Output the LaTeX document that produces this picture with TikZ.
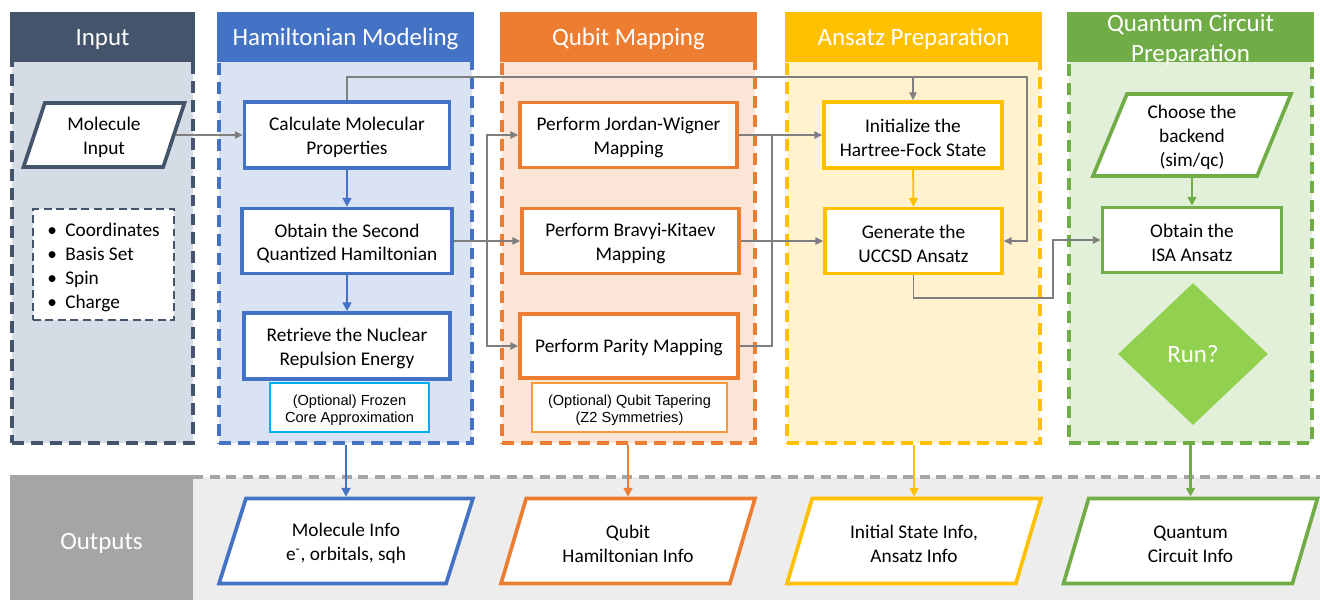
\documentclass[tikz,border=0pt]{standalone}
\usepackage{fontspec}
\setmainfont{Carlito}
\newfontfamily\arialfont{Liberation Sans}
\usetikzlibrary{arrows.meta,shapes.geometric}

\definecolor{slate}{HTML}{44546A}
\definecolor{slatefill}{HTML}{D6DCE5}
\definecolor{hblue}{HTML}{4472C4}
\definecolor{hbluefill}{HTML}{DAE3F3}
\definecolor{qorange}{HTML}{ED7D31}
\definecolor{qorangefill}{HTML}{FBE5D6}
\definecolor{agold}{HTML}{FFC000}
\definecolor{agoldfill}{HTML}{FFF2CC}
\definecolor{cgreen}{HTML}{70AD47}
\definecolor{cgreenfill}{HTML}{E2F0D9}
\definecolor{rungreen}{HTML}{92D050}
\definecolor{linkgray}{HTML}{7F7F7F}
\definecolor{outgray}{HTML}{A5A5A5}
\definecolor{bandgray}{HTML}{EDEDED}
\definecolor{frozenblue}{HTML}{00B0F0}
\definecolor{taperorange}{HTML}{F79A3A}

\newcommand\hdrfont{\fontsize{14.2}{17}\selectfont}
\newcommand\boxfont{\fontsize{11}{13.6}\selectfont}
\newcommand\notefont{\arialfont\fontsize{8.3}{9.8}\selectfont}
% struts that give the first text line a fixed height
\newcommand\lift{\rule{0pt}{10.6pt}}
\newcommand\liftnote{\rule{0pt}{9.4pt}}

\tikzset{
  hdr/.style={fill=#1, minimum height=1cm, inner sep=0pt, text=white, font=\hdrfont,
    text height=10.2pt, text depth=0pt},
  lane/.style={draw=#1, line width=1.9pt, dash pattern=on 6.8pt off 4pt,
    minimum height=7.66cm, inner sep=0pt},
  procbox/.style={draw=#1, fill=white, line width=2.1pt, align=center,
    inner sep=0pt, font=\boxfont},
  notebox/.style={draw=#1, fill=white, line width=0.8pt, align=center,
    inner sep=0pt, font=\notefont},
  para/.style={trapezium, trapezium stretches body=true, draw=#1, fill=white,
    line width=2.1pt, align=center, inner sep=0pt, font=\boxfont},
  outpara/.style={minimum width=5.08cm, minimum height=1.7cm,
    trapezium left angle=59.5, trapezium right angle=120.5},
  link/.style={draw=linkgray, line width=1pt, -{Triangle[length=4.5pt,width=4.2pt]}},
  linkline/.style={draw=linkgray, line width=1pt},
  flowarrow/.style={draw=#1, line width=1.4pt, -{Triangle[length=5pt,width=5pt]}},
}

\begin{document}
\begin{tikzpicture}[x=0.02cm, y=-0.02cm]
\fill[white] (0,0) rectangle (1320,600);
\useasboundingbox (0,0) rectangle (1320,600);

% outputs band
\fill[bandgray] (193,477) rectangle (1320,600);
\draw[outgray, line width=1.8pt, dash pattern=on 5.7pt off 3.7pt] (193,477) -- (1320,477);
\node[fill=outgray, minimum width=3.66cm, minimum height=2.5cm, inner sep=0pt,
  text=white, font=\hdrfont, text height=13.1pt, text depth=0pt] (outlabel) at (101.5,537.5) {Outputs};

% lanes
\node[lane=slate, fill=slatefill, minimum width=3.62cm] (inlane) at (102.5,251.5) {};
\node[lane=hblue, fill=hbluefill, minimum width=5.06cm] (hlane) at (345.5,251.5) {};
\node[lane=qorange, fill=qorangefill, minimum width=5.06cm] (qlane) at (628.5,251.5) {};
\node[lane=agold, fill=agoldfill, minimum width=5.06cm] (alane) at (913.5,251.5) {};
\node[lane=cgreen, fill=cgreenfill, minimum width=4.86cm] (clane) at (1190.5,251.5) {};

% lane headers
\node[hdr=slate, minimum width=3.7cm] (inhdr) at (102.5,37) {Input};
\node[hdr=hblue, minimum width=5.14cm] (hhdr) at (345.5,37) {Hamiltonian Modeling};
\node[hdr=qorange, minimum width=5.14cm] (qhdr) at (628.5,37) {Qubit Mapping};
\node[hdr=agold, minimum width=5.14cm] (ahdr) at (913.5,37) {Ansatz Preparation};
\node[hdr=cgreen, minimum width=4.94cm] (chdr) at (1190.5,37) {};
\node[text=white, font=\hdrfont, align=center, inner sep=0pt] (chtext) at (1190.5,39.5)
  {Quantum Circuit\\Preparation};

% input lane
\node[para=slate, minimum width=3.22cm, minimum height=1.28cm,
  trapezium left angle=65, trapezium right angle=115] (minput) at (104,135) {\lift Molecule\\Input};
\node[draw=slate, fill=white, line width=1.4pt, dash pattern=on 4.5pt off 2.6pt,
  minimum width=2.82cm, minimum height=2.22cm, inner sep=0pt, font=\boxfont, align=left]
  (props) at (103.5,264.5)
  {\lift\makebox[0.36cm][l]{•}Coordinates\\\makebox[0.36cm][l]{•}Basis Set\\
   \makebox[0.36cm][l]{•}Spin\\\makebox[0.36cm][l]{•}Charge};

% hamiltonian lane
\node[procbox=hblue, minimum width=4.1cm, minimum height=1.32cm] (calc) at (347,135)
  {\lift Calculate Molecular\\Properties};
\node[procbox=hblue, minimum width=4.2cm, minimum height=1.3cm] (second) at (347,241)
  {\lift Obtain the Second\\Quantized Hamiltonian};
\node[procbox=hblue, minimum width=4.12cm, minimum height=1.32cm] (nuclear) at (347,346)
  {\lift Retrieve the Nuclear\\Repulsion Energy};
\node[notebox=frozenblue, minimum width=3.18cm, minimum height=0.98cm] (frozen) at (349.5,407.5)
  {\liftnote (Optional) Frozen\\Core Approximation};

% qubit mapping lane
\node[procbox=qorange, minimum width=4.34cm, minimum height=1.3cm] (jw) at (628.5,135)
  {\lift Perform Jordan-Wigner\\Mapping};
\node[procbox=qorange, minimum width=4.34cm, minimum height=1.3cm] (bk) at (630.5,241)
  {\lift Perform Bravyi-Kitaev\\Mapping};
\node[procbox=qorange, minimum width=4.36cm, minimum height=1.28cm,
  text height=9.6pt, text depth=2.4pt] (parity) at (629,346)
  {Perform Parity Mapping};
\node[notebox=taperorange, minimum width=3.9cm, minimum height=0.98cm] (taper) at (629.5,407.5)
  {\liftnote (Optional) Qubit Tapering\\(Z2 Symmetries)};

% ansatz lane
\node[procbox=agold, minimum width=3.56cm, minimum height=1.32cm] (hf) at (913,135)
  {\lift Initialize the\\Hartree-Fock State};
\node[procbox=agold, minimum width=3.54cm, minimum height=1.3cm] (uccsd) at (913.5,241)
  {\lift Generate the\\UCCSD Ansatz};

% circuit lane
\node[para=cgreen, minimum width=3.96cm, minimum height=1.64cm,
  trapezium left angle=64, trapezium right angle=116] (backend) at (1192,135)
  {\lift Choose the\\backend\\(sim/qc)};
\node[procbox=cgreen, minimum width=3.58cm, minimum height=1.3cm] (isa) at (1192,240)
  {\lift Obtain the\\ISA Ansatz};
\node[diamond, fill=rungreen, minimum width=3cm, minimum height=2.84cm, inner sep=0pt,
  text=white, font=\hdrfont, text height=10.2pt, text depth=0pt] (run) at (1193,354) {Run?};

% outputs
\node[para=hblue, outpara] (minfo) at (346,541) {\lift Molecule Info\\e\textsuperscript{-}, orbitals, sqh};
\node[para=qorange, outpara] (qinfo) at (628,541) {\lift Qubit\\Hamiltonian Info};
\node[para=agold, outpara] (ainfo) at (914,541) {\lift Initial State Info,\\Ansatz Info};
\node[para=cgreen, outpara] (cinfo) at (1190.5,541) {\lift Quantum\\Circuit Info};

% connectors
\draw[link] (minput.east) -- (calc.west);
\draw[flowarrow=hblue] (calc.south) -- (second.north);
\draw[flowarrow=hblue] (second.south) -- (nuclear.north);

\coordinate (split) at (487,241);
\draw[link] (second.east) -- (bk.west);
\draw[link] (split) |- (jw.west);
\draw[link] (split) |- (parity.west);

\draw[link] (jw.east) -- (hf.west);
\draw[link] (bk.east) -- (uccsd.west);
\coordinate (merge) at (772,135);
\draw[linkline] (parity.east) -| (merge);

\coordinate (topline) at (0,77);
\draw[link] (calc.north) -- (calc.north |- topline) -| (hf.north);
\coordinate (loopcorner) at (1027,77);
\draw[link] (hf.north |- topline) -- (loopcorner) |- (uccsd.east);
\draw[flowarrow=agold, line width=1pt] (hf.south) -- (uccsd.north);

\coordinate (jog) at (1053,298);
\draw[link] (uccsd.south) |- (jog) |- (isa.west);
\draw[flowarrow=cgreen, line width=1pt] (backend.south) -- (isa.north);

% lanes to outputs
\draw[flowarrow=hblue] (minfo.north |- hlane.south) -- (minfo.north);
\draw[flowarrow=qorange] (qinfo.north |- qlane.south) -- (qinfo.north);
\draw[flowarrow=agold] (ainfo.north |- alane.south) -- (ainfo.north);
\draw[flowarrow=cgreen] (cinfo.north |- clane.south) -- (cinfo.north);
\end{tikzpicture}
\end{document}
